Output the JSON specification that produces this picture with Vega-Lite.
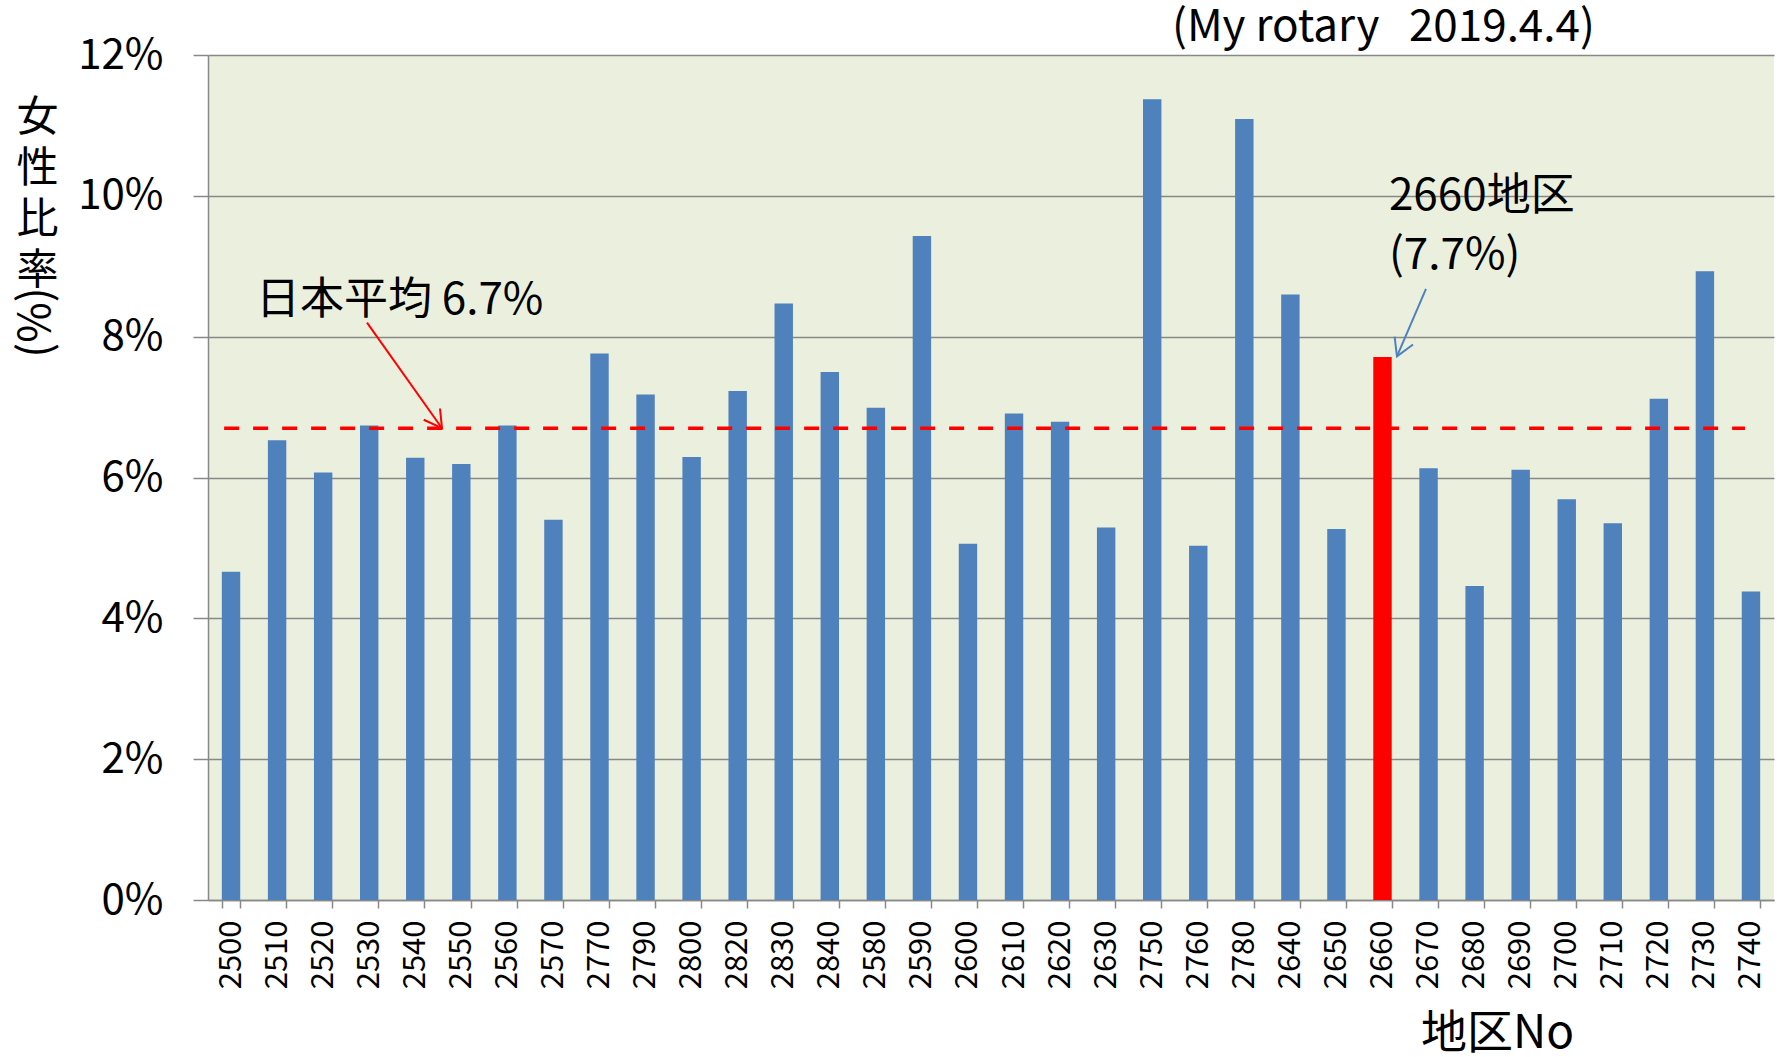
{
  "$schema": "https://vega.github.io/schema/vega-lite/v6.json",
  "autosize": "none",
  "width": 1566,
  "height": 845,
  "padding": {"left": 208, "top": 55, "right": 11, "bottom": 157},
  "background": "white",
  "config": {"view": {"stroke": null, "fill": "#EBF0DE"}, "font": "Noto Sans CJK JP"},
  "datasets": {
    "districts": [
      {"district": "2500", "ratio": 0.0466},
      {"district": "2510", "ratio": 0.0653},
      {"district": "2520", "ratio": 0.0607},
      {"district": "2530", "ratio": 0.0674},
      {"district": "2540", "ratio": 0.0628},
      {"district": "2550", "ratio": 0.0619},
      {"district": "2560", "ratio": 0.0674},
      {"district": "2570", "ratio": 0.0540},
      {"district": "2770", "ratio": 0.0776},
      {"district": "2790", "ratio": 0.0718},
      {"district": "2800", "ratio": 0.0629},
      {"district": "2820", "ratio": 0.0723},
      {"district": "2830", "ratio": 0.0847},
      {"district": "2840", "ratio": 0.0750},
      {"district": "2580", "ratio": 0.0699},
      {"district": "2590", "ratio": 0.0943},
      {"district": "2600", "ratio": 0.0506},
      {"district": "2610", "ratio": 0.0691},
      {"district": "2620", "ratio": 0.0679},
      {"district": "2630", "ratio": 0.0529},
      {"district": "2750", "ratio": 0.1137},
      {"district": "2760", "ratio": 0.0503},
      {"district": "2780", "ratio": 0.1109},
      {"district": "2640", "ratio": 0.0860},
      {"district": "2650", "ratio": 0.0527},
      {"district": "2660", "ratio": 0.0771},
      {"district": "2670", "ratio": 0.0613},
      {"district": "2680", "ratio": 0.0446},
      {"district": "2690", "ratio": 0.0611},
      {"district": "2700", "ratio": 0.0569},
      {"district": "2710", "ratio": 0.0535},
      {"district": "2720", "ratio": 0.0712},
      {"district": "2730", "ratio": 0.0893},
      {"district": "2740", "ratio": 0.0438}
    ],
    "arrows": [
      {"arrow": "avg", "part": "shaft", "k": 1, "x": 3.452, "y": 0.0820},
      {"arrow": "avg", "part": "shaft", "k": 2, "x": 5.080, "y": 0.0670},
      {"arrow": "avg", "part": "head", "k": 1, "x": 5.037, "y": 0.0698},
      {"arrow": "avg", "part": "head", "k": 2, "x": 5.080, "y": 0.0670},
      {"arrow": "avg", "part": "head", "k": 3, "x": 4.683, "y": 0.0682},
      {"arrow": "d2660", "part": "shaft", "k": 1, "x": 26.444, "y": 0.0868},
      {"arrow": "d2660", "part": "shaft", "k": 2, "x": 25.814, "y": 0.0772},
      {"arrow": "d2660", "part": "head", "k": 1, "x": 26.163, "y": 0.07889},
      {"arrow": "d2660", "part": "head", "k": 2, "x": 25.814, "y": 0.0772},
      {"arrow": "d2660", "part": "head", "k": 3, "x": 25.763, "y": 0.08001}
    ],
    "notes": [
      {"label": "日本平均 6.7%", "x": 1.04, "y": 0.0851},
      {"label": "2660地区", "x": 25.64, "y": 0.0998},
      {"label": "(7.7%)", "x": 25.64, "y": 0.0914},
      {"label": "(My rotary\u00a0\u00a0\u00a02019.4.4)", "x": 20.93, "y": 0.1238}
    ]
  },
  "layer": [
    {
      "data": {"name": "districts"},
      "mark": {"type": "bar"},
      "encoding": {
        "x": {
          "field": "district", "type": "nominal", "sort": null,
          "scale": {"paddingInner": 0.6, "paddingOuter": 0.3},
          "axis": {
            "labelAngle": -90, "labelFontSize": 31, "labelPadding": 12, "labelColor": "black",
            "tickSize": 8, "tickBand": "extent", "tickColor": "#888888", "tickWidth": 1.5,
            "domainColor": "#888888", "domainWidth": 1.5, "grid": false,
            "title": "地区No", "titleFontSize": 46, "titleFontWeight": "normal", "titleColor": "black",
            "titleX": 1289, "titleY": 133, "titleAlign": "center", "titleBaseline": "middle"
          }
        },
        "y": {
          "field": "ratio", "type": "quantitative",
          "scale": {"domain": [0, 0.12], "nice": false},
          "axis": {
            "values": [0, 0.02, 0.04, 0.06, 0.08, 0.1, 0.12], "format": ".0%",
            "labelFontSize": 42, "labelColor": "black", "labelPadding": 30,
            "tickSize": 15, "tickColor": "#888888", "tickWidth": 1.5,
            "domainColor": "#888888", "domainWidth": 1.5,
            "grid": true, "gridColor": "#888888", "gridWidth": 1.5,
            "title": ["女", "性", "比", "率"], "titleFontSize": 42, "titleFontWeight": "normal",
            "titleColor": "black", "titleAngle": 0, "titleX": -171, "titleY": 42,
            "titleAlign": "center", "titleBaseline": "top", "titleLineHeight": 51
          }
        },
        "color": {
          "condition": {"test": "datum.district === '2660'", "value": "#FF0000"},
          "value": "#4F81BD"
        }
      }
    },
    {
      "layer": [
        {
          "data": {"values": [{"x": 0.35, "x2": 33.37, "y": 0.067}]},
          "mark": {"type": "rule", "color": "#FF0000", "strokeWidth": 3.5, "strokeDash": [15, 14]},
          "encoding": {
            "x": {"field": "x", "type": "quantitative", "scale": {"domain": [0, 34], "nice": false, "zero": false}, "axis": null},
            "x2": {"field": "x2"},
            "y": {"field": "y", "type": "quantitative"}
          }
        },
        {
          "data": {"name": "arrows"},
          "transform": [{"filter": "datum.arrow === 'avg'"}],
          "mark": {"type": "line", "color": "#FF0000", "strokeWidth": 2},
          "encoding": {
            "x": {"field": "x", "type": "quantitative", "axis": null},
            "y": {"field": "y", "type": "quantitative"},
            "detail": {"field": "part"},
            "order": {"field": "k"}
          }
        },
        {
          "data": {"name": "arrows"},
          "transform": [{"filter": "datum.arrow === 'd2660'"}],
          "mark": {"type": "line", "color": "#4F81BD", "strokeWidth": 2},
          "encoding": {
            "x": {"field": "x", "type": "quantitative", "axis": null},
            "y": {"field": "y", "type": "quantitative"},
            "detail": {"field": "part"},
            "order": {"field": "k"}
          }
        },
        {
          "data": {"name": "notes"},
          "mark": {"type": "text", "align": "left", "baseline": "middle", "fontSize": 44, "color": "black"},
          "encoding": {
            "x": {"field": "x", "type": "quantitative", "axis": null},
            "y": {"field": "y", "type": "quantitative"},
            "text": {"field": "label"}
          }
        },
        {
          "data": {"values": [{"label": "(%)", "x": -3.71, "y": 0.0820}]},
          "mark": {"type": "text", "align": "center", "baseline": "middle", "fontSize": 44, "color": "black", "angle": 270},
          "encoding": {
            "x": {"field": "x", "type": "quantitative", "axis": null},
            "y": {"field": "y", "type": "quantitative"},
            "text": {"field": "label"}
          }
        }
      ]
    }
  ],
  "resolve": {"scale": {"x": "independent"}}
}
